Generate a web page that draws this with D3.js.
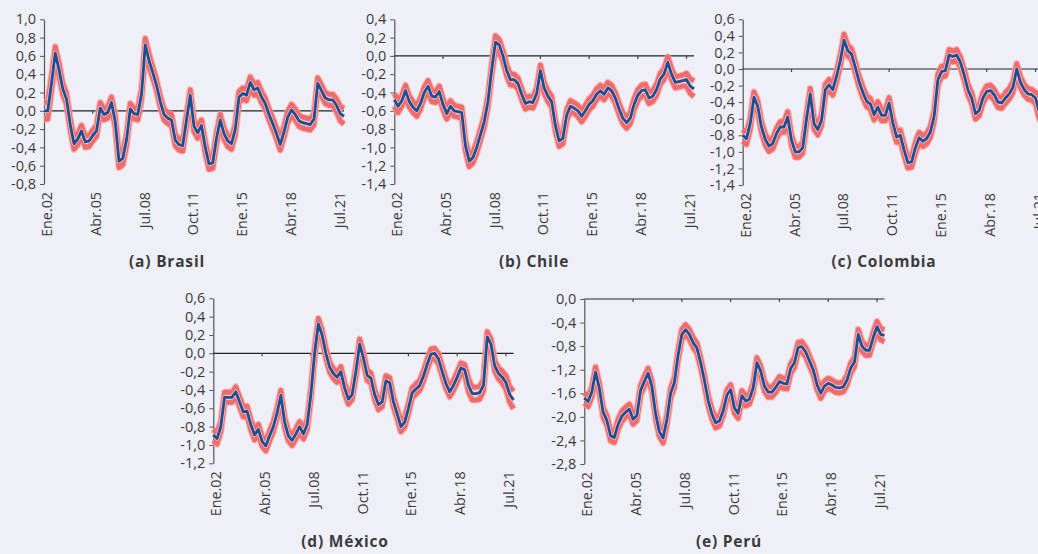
<!DOCTYPE html>
<html>
<head>
<meta charset="utf-8">
<script src="https://cdn.jsdelivr.net/npm/d3@7"></script>
<style>
  html, body { margin: 0; padding: 0; background: #eff0f7; overflow: hidden; }
  svg { display: block; }
  text { font-family: "Open Sans", "Noto Sans", sans-serif; fill: #3b3b3b; }
</style>
</head>
<body>
<svg id="chart" width="1060" height="554"></svg>
<script>
// Monthly sample points (every 3 months), counted from Jan 2002
const sampleMonths = d3.range(0, 241, 3);

const xTickMonths = [0, 39, 78, 117, 156, 195, 234];
const xTickLabels = ["Ene.02", "Abr.05", "Jul.08", "Oct.11", "Ene.15", "Abr.18", "Jul.21"];

// Central estimate per country
const brasilCenter = [
  0.00, 0.00, 0.30, 0.63, 0.45, 0.24, 0.13, -0.15, -0.36, -0.31,
  -0.22, -0.34, -0.33, -0.27, -0.22, 0.03, -0.04, -0.02, 0.09, -0.12,
  -0.55, -0.52, -0.32, 0.02, -0.03, -0.04, 0.18, 0.72, 0.55, 0.42,
  0.28, 0.10, -0.04, -0.08, -0.10, -0.32, -0.37, -0.38, -0.10, 0.17,
  -0.17, -0.24, -0.16, -0.40, -0.58, -0.57, -0.30, -0.10, -0.25, -0.33,
  -0.36, -0.20, 0.15, 0.19, 0.17, 0.31, 0.23, 0.25, 0.15, 0.08,
  -0.04, -0.14, -0.25, -0.37, -0.23, -0.07, 0.01, -0.04, -0.11, -0.13,
  -0.14, -0.15, -0.09, 0.30, 0.22, 0.14, 0.12, 0.12, 0.06, -0.03,
  -0.06
];
const chileCenter = [
  -0.48, -0.55, -0.49, -0.38, -0.50, -0.56, -0.60, -0.52, -0.40, -0.33,
  -0.44, -0.45, -0.39, -0.53, -0.63, -0.55, -0.60, -0.61, -0.62, -0.98,
  -1.15, -1.11, -1.00, -0.86, -0.72, -0.50, -0.15, 0.15, 0.12, 0.00,
  -0.16, -0.26, -0.26, -0.30, -0.42, -0.52, -0.50, -0.51, -0.41, -0.16,
  -0.35, -0.44, -0.50, -0.76, -0.93, -0.90, -0.65, -0.55, -0.57, -0.60,
  -0.66, -0.60, -0.53, -0.49, -0.42, -0.38, -0.42, -0.35, -0.38, -0.46,
  -0.58, -0.68, -0.73, -0.68, -0.53, -0.43, -0.38, -0.37, -0.46, -0.44,
  -0.37, -0.25, -0.20, -0.07, -0.20, -0.29, -0.28, -0.27, -0.26, -0.33,
  -0.36
];
const colombiaCenter = [
  -0.80, -0.84, -0.66, -0.34, -0.45, -0.70, -0.85, -0.93, -0.90, -0.78,
  -0.70, -0.70, -0.58, -0.86, -1.00, -1.00, -0.95, -0.60, -0.30, -0.66,
  -0.73, -0.62, -0.25, -0.19, -0.25, -0.09, 0.10, 0.35, 0.22, 0.18,
  0.02, -0.15, -0.28, -0.39, -0.42, -0.55, -0.46, -0.56, -0.56, -0.41,
  -0.65, -0.82, -0.80, -0.98, -1.13, -1.12, -0.95, -0.83, -0.87, -0.84,
  -0.76, -0.57, -0.13, -0.03, -0.02, 0.17, 0.15, 0.17, 0.08, -0.07,
  -0.25, -0.35, -0.54, -0.50, -0.35, -0.27, -0.26, -0.31, -0.40, -0.41,
  -0.35, -0.30, -0.22, 0.00, -0.16, -0.25, -0.30, -0.31, -0.35, -0.52,
  -0.60
];
const mexicoCenter = [
  -0.89, -0.93, -0.80, -0.48, -0.48, -0.48, -0.42, -0.53, -0.64, -0.63,
  -0.78, -0.89, -0.83, -0.96, -1.01, -0.90, -0.80, -0.65, -0.46, -0.75,
  -0.90, -0.95, -0.88, -0.80, -0.88, -0.78, -0.45, 0.00, 0.32, 0.20,
  0.00, -0.15, -0.22, -0.26, -0.20, -0.38, -0.50, -0.45, -0.20, 0.10,
  -0.05, -0.24, -0.27, -0.45, -0.56, -0.53, -0.30, -0.32, -0.53, -0.66,
  -0.80, -0.75, -0.60, -0.43, -0.39, -0.35, -0.25, -0.12, -0.01, 0.00,
  -0.06, -0.20, -0.33, -0.42, -0.35, -0.26, -0.16, -0.18, -0.35, -0.44,
  -0.44, -0.43, -0.35, 0.18, 0.10, -0.14, -0.22, -0.26, -0.32, -0.45,
  -0.51
];
const peruCenter = [
  -1.68, -1.74, -1.58, -1.24, -1.51, -1.92, -2.06, -2.32, -2.35, -2.13,
  -1.99, -1.92, -1.87, -2.04, -1.98, -1.55, -1.40, -1.26, -1.48, -1.95,
  -2.25, -2.36, -2.05, -1.60, -1.42, -0.95, -0.60, -0.52, -0.60, -0.74,
  -0.83, -1.08, -1.38, -1.72, -1.95, -2.10, -2.07, -1.90, -1.63, -1.54,
  -1.85, -1.94, -1.64, -1.73, -1.70, -1.51, -1.08, -1.22, -1.48, -1.58,
  -1.58, -1.50, -1.40, -1.43, -1.44, -1.18, -1.08, -0.82, -0.81, -0.90,
  -1.05, -1.20, -1.45, -1.60, -1.48, -1.43, -1.46, -1.50, -1.51, -1.49,
  -1.38, -1.17, -1.07, -0.60, -0.80, -0.87, -0.87, -0.65, -0.47, -0.60,
  -0.62
];

// Half-width of the interval around each central estimate
const brasilBand = [
  0.09, 0.09, 0.08, 0.07, 0.07, 0.06, 0.06, 0.06, 0.06, 0.06,
  0.06, 0.06, 0.06, 0.06, 0.06, 0.06, 0.06, 0.06, 0.06, 0.06,
  0.07, 0.07, 0.06, 0.06, 0.06, 0.06, 0.06, 0.07, 0.07, 0.06,
  0.06, 0.06, 0.06, 0.06, 0.06, 0.06, 0.06, 0.06, 0.06, 0.06,
  0.06, 0.06, 0.06, 0.06, 0.06, 0.06, 0.06, 0.06, 0.06, 0.06,
  0.06, 0.06, 0.06, 0.06, 0.06, 0.06, 0.06, 0.06, 0.06, 0.06,
  0.06, 0.06, 0.06, 0.06, 0.06, 0.06, 0.06, 0.06, 0.06, 0.06,
  0.06, 0.06, 0.06, 0.06, 0.06, 0.06, 0.06, 0.06, 0.07, 0.08,
  0.085
];
const chileBand = [
  0.07, 0.07, 0.06, 0.06, 0.06, 0.06, 0.06, 0.06, 0.06, 0.06,
  0.06, 0.06, 0.06, 0.06, 0.06, 0.06, 0.06, 0.06, 0.06, 0.06,
  0.06, 0.06, 0.06, 0.06, 0.06, 0.06, 0.06, 0.07, 0.06, 0.06,
  0.06, 0.06, 0.06, 0.06, 0.06, 0.06, 0.06, 0.06, 0.06, 0.06,
  0.06, 0.06, 0.06, 0.06, 0.06, 0.06, 0.06, 0.06, 0.06, 0.06,
  0.06, 0.06, 0.06, 0.06, 0.06, 0.06, 0.06, 0.06, 0.06, 0.06,
  0.06, 0.06, 0.06, 0.06, 0.06, 0.06, 0.06, 0.06, 0.06, 0.06,
  0.06, 0.06, 0.06, 0.06, 0.06, 0.06, 0.06, 0.06, 0.07, 0.08,
  0.085
];
const colombiaBand = [
  0.07, 0.07, 0.065, 0.065, 0.065, 0.065, 0.065, 0.065, 0.065, 0.065,
  0.065, 0.065, 0.065, 0.065, 0.065, 0.065, 0.065, 0.065, 0.065, 0.065,
  0.065, 0.065, 0.065, 0.065, 0.065, 0.065, 0.065, 0.07, 0.065, 0.065,
  0.065, 0.065, 0.065, 0.065, 0.065, 0.065, 0.065, 0.065, 0.065, 0.065,
  0.065, 0.065, 0.065, 0.065, 0.065, 0.065, 0.065, 0.065, 0.065, 0.065,
  0.065, 0.065, 0.065, 0.065, 0.065, 0.065, 0.065, 0.065, 0.065, 0.065,
  0.065, 0.065, 0.065, 0.065, 0.065, 0.065, 0.065, 0.065, 0.065, 0.065,
  0.065, 0.065, 0.065, 0.065, 0.065, 0.065, 0.065, 0.065, 0.07, 0.08,
  0.085
];
const mexicoBand = [
  0.06, 0.06, 0.055, 0.055, 0.055, 0.055, 0.055, 0.055, 0.055, 0.055,
  0.055, 0.055, 0.055, 0.055, 0.055, 0.055, 0.055, 0.055, 0.055, 0.055,
  0.055, 0.055, 0.055, 0.055, 0.055, 0.055, 0.055, 0.06, 0.06, 0.055,
  0.055, 0.055, 0.055, 0.055, 0.055, 0.055, 0.055, 0.055, 0.055, 0.055,
  0.055, 0.055, 0.055, 0.055, 0.055, 0.055, 0.055, 0.055, 0.055, 0.055,
  0.055, 0.055, 0.055, 0.055, 0.055, 0.055, 0.055, 0.055, 0.055, 0.055,
  0.055, 0.055, 0.055, 0.055, 0.055, 0.055, 0.055, 0.055, 0.07, 0.07,
  0.07, 0.07, 0.06, 0.055, 0.055, 0.055, 0.06, 0.065, 0.075, 0.085,
  0.095
];
const peruBand = [
  0.085, 0.085, 0.085, 0.085, 0.085, 0.085, 0.085, 0.085, 0.085, 0.085,
  0.085, 0.085, 0.085, 0.085, 0.085, 0.085, 0.085, 0.085, 0.085, 0.085,
  0.085, 0.085, 0.085, 0.085, 0.085, 0.085, 0.085, 0.085, 0.085, 0.085,
  0.085, 0.085, 0.085, 0.085, 0.085, 0.085, 0.085, 0.085, 0.085, 0.085,
  0.085, 0.085, 0.085, 0.085, 0.085, 0.085, 0.085, 0.085, 0.085, 0.085,
  0.085, 0.085, 0.085, 0.085, 0.085, 0.085, 0.085, 0.085, 0.085, 0.085,
  0.085, 0.085, 0.085, 0.085, 0.085, 0.085, 0.085, 0.085, 0.085, 0.085,
  0.085, 0.085, 0.085, 0.085, 0.085, 0.085, 0.085, 0.085, 0.09, 0.095,
  0.10
];

// Y-axis tick values per panel
const brasilTicks   = [1.0, 0.8, 0.6, 0.4, 0.2, 0.0, -0.2, -0.4, -0.6, -0.8];
const chileTicks    = [0.4, 0.2, 0.0, -0.2, -0.4, -0.6, -0.8, -1.0, -1.2, -1.4];
const colombiaTicks = [0.6, 0.4, 0.2, 0.0, -0.2, -0.4, -0.6, -0.8, -1.0, -1.2, -1.4];
const mexicoTicks   = [0.6, 0.4, 0.2, 0.0, -0.2, -0.4, -0.6, -0.8, -1.0, -1.2];
const peruTicks     = [0.0, -0.4, -0.8, -1.2, -1.6, -2.0, -2.4, -2.8];

const titles = ["(a) Brasil", "(b) Chile", "(c) Colombia", "(d) México", "(e) Perú"];

// Panel layout (pixels)
const panels = [
  { title: titles[0], center: brasilCenter,   band: brasilBand,   ticks: brasilTicks,   left: 44,    right: 344,  top: 19.3, bottom: 184,   tx: 167, ty: 267 },
  { title: titles[1], center: chileCenter,    band: chileBand,    ticks: chileTicks,    left: 394.3, right: 694,  top: 19.3, bottom: 184,   tx: 534, ty: 267 },
  { title: titles[2], center: colombiaCenter, band: colombiaBand, ticks: colombiaTicks, left: 742.7, right: 1043, top: 19.3, bottom: 185,   tx: 884, ty: 267 },
  { title: titles[3], center: mexicoCenter,   band: mexicoBand,   ticks: mexicoTicks,   left: 213.3, right: 513.5, top: 298.3, bottom: 463.3, tx: 345, ty: 547 },
  { title: titles[4], center: peruCenter,     band: peruBand,     ticks: peruTicks,     left: 584.3, right: 884.5, top: 299,  bottom: 464,   tx: 729, ty: 547 }
];

const locale = d3.formatLocale({ decimal: ",", thousands: ".", grouping: [3], currency: ["", ""], minus: "-" });
const fmt = v => locale.format(".1f")(Math.abs(v) < 1e-9 ? 0 : v);

const svg = d3.select("#chart");

panels.forEach(p => {
  const x = d3.scaleLinear().domain([0, 240]).range([p.left, p.right]);
  const y = d3.scaleLinear().domain(d3.extent(p.ticks)).range([p.bottom, p.top]);
  const g = svg.append("g");

  const pts = sampleMonths.map((m, i) => ({ m, c: p.center[i], b: p.band[i] }));
  const lineC = d3.line().x(d => x(d.m)).y(d => y(d.c));
  const lineU = d3.line().x(d => x(d.m)).y(d => y(d.c + d.b));
  const lineL = d3.line().x(d => x(d.m)).y(d => y(d.c - d.b));

  // Y axis
  const yAxis = d3.axisLeft(y).tickValues(p.ticks).tickFormat(fmt).tickSize(4).tickSizeOuter(0);
  const ya = g.append("g").attr("transform", `translate(${p.left},0)`).call(yAxis);
  ya.select(".domain").attr("stroke", "#555").attr("stroke-width", 1.2);
  ya.selectAll(".tick line").attr("stroke", "#555");
  ya.selectAll(".tick text")
    .attr("x", -8)
    .style("font-size", "14.5px")
    .style("font-family", "'Open Sans', sans-serif")
    .attr("fill", "#3b3b3b");

  // Baseline at zero with month ticks
  const y0 = y(0);
  g.append("line")
    .attr("x1", p.left).attr("x2", p.right)
    .attr("y1", y0).attr("y2", y0)
    .attr("stroke", "#222").attr("stroke-width", 1.2);
  g.selectAll(".mtick").data(xTickMonths.slice(1)).enter().append("line")
    .attr("x1", d => x(d)).attr("x2", d => x(d))
    .attr("y1", y0).attr("y2", y0 + 3)
    .attr("stroke", "#444").attr("stroke-width", 1.2);

  // Month labels along the bottom
  g.selectAll(".mlabel").data(xTickMonths).enter().append("text")
    .attr("transform", d => `translate(${x(d) + 3},${p.bottom + 8}) rotate(-90)`)
    .attr("text-anchor", "end")
    .attr("dy", "0.35em")
    .style("font-size", "14.3px")
    .text((d, i) => xTickLabels[i]);

  // Interval bounds
  [lineU, lineL].forEach(l => {
    g.append("path").datum(pts).attr("d", l)
      .attr("fill", "none").attr("stroke", "#f5a3a3").attr("stroke-width", 7)
      .attr("stroke-linejoin", "round").attr("stroke-opacity", 0.7);
  });
  [lineU, lineL].forEach(l => {
    g.append("path").datum(pts).attr("d", l)
      .attr("fill", "none").attr("stroke", "#f06b6b").attr("stroke-width", 4.8)
      .attr("stroke-linejoin", "round");
  });
  // Central estimate
  g.append("path").datum(pts).attr("d", lineC)
    .attr("fill", "none").attr("stroke", "#f7c9cc").attr("stroke-width", 4.2)
    .attr("stroke-linejoin", "round");
  g.append("path").datum(pts).attr("d", lineC)
    .attr("fill", "none").attr("stroke", "#1e4d92").attr("stroke-width", 2.8)
    .attr("stroke-linejoin", "round");

  // Panel caption
  svg.append("text")
    .attr("x", p.tx).attr("y", p.ty)
    .attr("text-anchor", "middle")
    .style("font-size", "15.5px")
    .style("font-weight", "700")
    .style("letter-spacing", "0.8px")
    .attr("fill", "#333")
    .text(p.title);
});
</script>
</body>
</html>
